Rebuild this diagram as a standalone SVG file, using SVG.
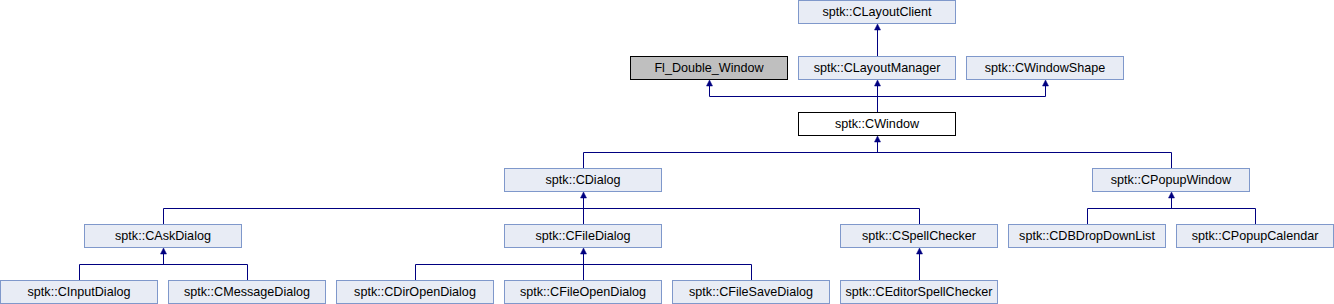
<svg xmlns="http://www.w3.org/2000/svg" width="1334" height="304" viewBox="0 0 1334 304">
<style>
.n rect{fill:#E8ECF5;stroke:#7F98CB;stroke-width:1}
.n.g rect{fill:#BFBFBF;stroke:#000000}
.n.w rect{fill:#FFFFFF;stroke:#000000}
.n text{font-family:"Liberation Sans",Arial,sans-serif;font-size:12.6px;fill:#000000;text-anchor:middle}
.e path{fill:none;stroke:#000080;stroke-width:1}
.e polygon{fill:#000080;stroke:#000080;stroke-width:0.5}
</style>
<rect width="1334" height="304" fill="#FFFFFF"/>
<g class="e" id="connectors">
<path d="M877.5,30 V56"/>
<polygon points="877.5,24 874.5,30 880.5,30"/>
<path d="M877.5,86 V112 M709.5,86 V96.5 H1045.5 V86"/>
<polygon points="877.5,80 874.5,86 880.5,86"/>
<polygon points="709.5,80 706.5,86 712.5,86"/>
<polygon points="1045.5,80 1042.5,86 1048.5,86"/>
<path d="M877.5,142 V152.5 M583.5,168 V152.5 H1171.5 V168"/>
<polygon points="877.5,136 874.5,142 880.5,142"/>
<path d="M583.5,198 V224 M163.5,224 V208.5 H919.5 V224"/>
<polygon points="583.5,192 580.5,198 586.5,198"/>
<path d="M1171.5,198 V208.5 M1087.5,224 V208.5 H1255.5 V224"/>
<polygon points="1171.5,192 1168.5,198 1174.5,198"/>
<path d="M163.5,254 V264.5 M79.5,280 V264.5 H247.5 V280"/>
<polygon points="163.5,248 160.5,254 166.5,254"/>
<path d="M583.5,254 V280 M415.5,280 V264.5 H751.5 V280"/>
<polygon points="583.5,248 580.5,254 586.5,254"/>
<path d="M919.5,254 V280"/>
<polygon points="919.5,248 916.5,254 922.5,254"/>
</g>
<g class="n" id="CLayoutClient"><rect x="798.5" y="0.5" width="157" height="23"/><text x="877" y="16">sptk::CLayoutClient</text></g>
<g class="n g" id="Fl_Double_Window"><rect x="630.5" y="56.5" width="157" height="23"/><text x="709" y="72">Fl_Double_Window</text></g>
<g class="n" id="CLayoutManager"><rect x="798.5" y="56.5" width="157" height="23"/><text x="877" y="72">sptk::CLayoutManager</text></g>
<g class="n" id="CWindowShape"><rect x="966.5" y="56.5" width="157" height="23"/><text x="1045" y="72">sptk::CWindowShape</text></g>
<g class="n w" id="CWindow"><rect x="798.5" y="112.5" width="157" height="23"/><text x="877" y="128">sptk::CWindow</text></g>
<g class="n" id="CDialog"><rect x="504.5" y="168.5" width="157" height="23"/><text x="583" y="184">sptk::CDialog</text></g>
<g class="n" id="CPopupWindow"><rect x="1092.5" y="168.5" width="157" height="23"/><text x="1171" y="184">sptk::CPopupWindow</text></g>
<g class="n" id="CAskDialog"><rect x="84.5" y="224.5" width="157" height="23"/><text x="163" y="240">sptk::CAskDialog</text></g>
<g class="n" id="CFileDialog"><rect x="504.5" y="224.5" width="157" height="23"/><text x="583" y="240">sptk::CFileDialog</text></g>
<g class="n" id="CSpellChecker"><rect x="840.5" y="224.5" width="157" height="23"/><text x="919" y="240">sptk::CSpellChecker</text></g>
<g class="n" id="CDBDropDownList"><rect x="1008.5" y="224.5" width="157" height="23"/><text x="1087" y="240">sptk::CDBDropDownList</text></g>
<g class="n" id="CPopupCalendar"><rect x="1176.5" y="224.5" width="157" height="23"/><text x="1255" y="240">sptk::CPopupCalendar</text></g>
<g class="n" id="CInputDialog"><rect x="0.5" y="280.5" width="157" height="23"/><text x="79" y="296">sptk::CInputDialog</text></g>
<g class="n" id="CMessageDialog"><rect x="168.5" y="280.5" width="157" height="23"/><text x="247" y="296">sptk::CMessageDialog</text></g>
<g class="n" id="CDirOpenDialog"><rect x="336.5" y="280.5" width="157" height="23"/><text x="415" y="296">sptk::CDirOpenDialog</text></g>
<g class="n" id="CFileOpenDialog"><rect x="504.5" y="280.5" width="157" height="23"/><text x="583" y="296">sptk::CFileOpenDialog</text></g>
<g class="n" id="CFileSaveDialog"><rect x="672.5" y="280.5" width="157" height="23"/><text x="751" y="296">sptk::CFileSaveDialog</text></g>
<g class="n" id="CEditorSpellChecker"><rect x="840.5" y="280.5" width="157" height="23"/><text x="919" y="296">sptk::CEditorSpellChecker</text></g>
</svg>
